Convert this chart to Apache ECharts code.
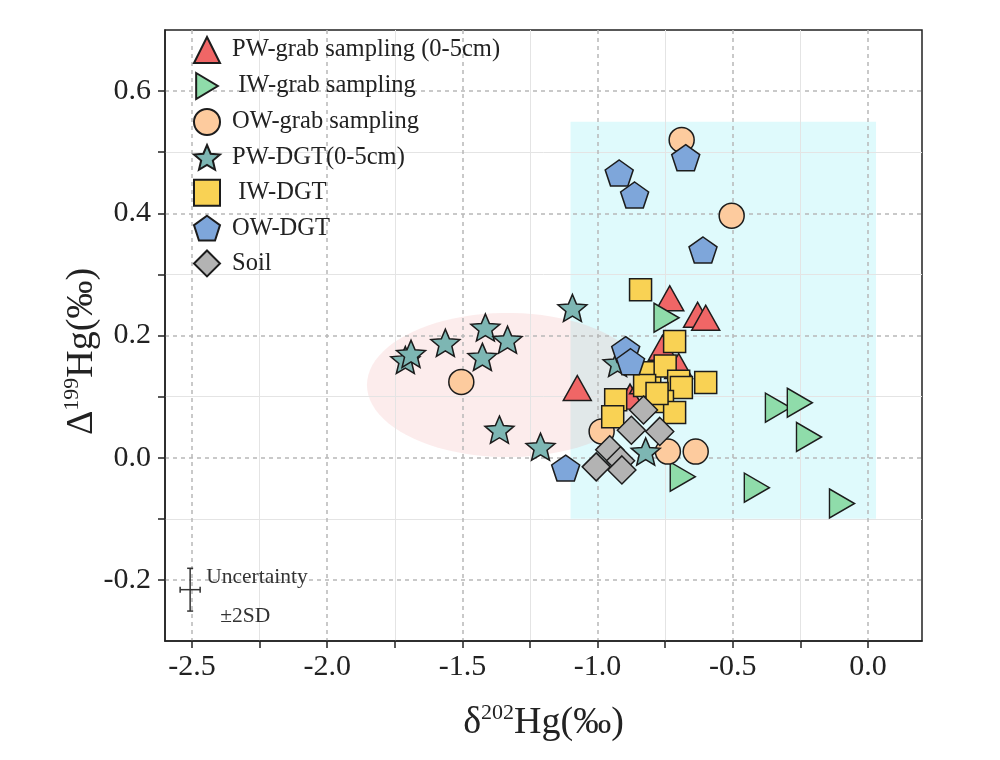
<!DOCTYPE html>
<html><head><meta charset="utf-8">
<script src="https://cdn.jsdelivr.net/npm/echarts@6/dist/echarts.min.js"></script>
<style>html,body{margin:0;padding:0;background:#fff}#c{width:1000px;height:760px}</style>
</head><body><div id="c"></div>
<script>
// ---------- data ----------
const seriesNames = ['PW-grab sampling (0-5cm)', ' IW-grab sampling', 'OW-grab sampling', 'PW-DGT(0-5cm)', ' IW-DGT', 'OW-DGT', 'Soil'];
const pwGrab = [[-1.075, 0.114], [-0.733, 0.261], [-0.63, 0.234], [-0.60, 0.229], [-0.76, 0.18], [-0.70, 0.15], [-0.88, 0.10], [-0.83, 0.125]];
const iwGrab = [[-0.745, 0.229], [-0.333, 0.082], [-0.252, 0.090], [-0.218, 0.034], [-0.411, -0.049], [-0.096, -0.075], [-0.685, -0.031]];
const owGrab = [[-0.689, 0.52], [-0.504, 0.396], [-1.504, 0.124], [-0.74, 0.01], [-0.637, 0.01], [-0.985, 0.043]];
const pwDgt = [[-1.711, 0.160], [-1.69, 0.170], [-1.563, 0.188], [-1.415, 0.213], [-1.333, 0.193], [-1.426, 0.165], [-1.363, 0.046], [-1.211, 0.018], [-1.093, 0.245], [-0.822, 0.010], [-0.926, 0.155]];
const iwDgt = [[-0.841, 0.275], [-0.715, 0.19], [-0.60, 0.123], [-0.807, 0.139], [-0.75, 0.15], [-0.70, 0.125], [-0.69, 0.115], [-0.826, 0.118], [-0.933, 0.095], [-0.76, 0.092], [-0.715, 0.074], [-0.944, 0.067], [-0.78, 0.105]];
const owDgt = [[-0.674, 0.491], [-0.92, 0.466], [-0.863, 0.43], [-0.61, 0.34], [-0.896, 0.177], [-0.878, 0.157], [-1.118, -0.017]];
const soil = [[-0.83, 0.078], [-0.875, 0.045], [-0.77, 0.043], [-0.955, 0.013], [-0.915, -0.005], [-1.005, -0.015], [-0.91, -0.02]];

const xRange = [-2.6, 0.2];
const yRange = [-0.3, 0.7];
const xMajorTicks = [-2.5, -2.0, -1.5, -1.0, -0.5, 0.0];
const xMinorTicks = [-2.25, -1.75, -1.25, -0.75, -0.25];
const yMajorTicks = [-0.2, 0.0, 0.2, 0.4, 0.6];
const yMinorTicks = [-0.1, 0.1, 0.3, 0.5];
const cyanBox = [[-1.1, -0.1], [0.03, 0.55]];
const pinkEllipse = { cx: -1.333, cy: 0.119, rx: 0.52, ry: 0.118 };
const uncertainty = { x: -2.507, y: -0.216, dx: 0.037, dy: 0.035 };

// ---------- styles ----------
const FONT = 'Liberation Serif';
const colors = ['#f06666', '#8fdcaa', '#fdcb9e', '#7db6b3', '#f9d254', '#7ea6da', '#b3b3b3'];
function polyPath(n, inner) {
  const pts = [];
  const k = inner ? n * 2 : n;
  for (let i = 0; i < k; i++) {
    const r = inner && (i % 2) ? inner : 1;
    const a = -Math.PI / 2 + i * 2 * Math.PI / k;
    pts.push((50 + 50 * r * Math.cos(a)).toFixed(2) + ',' + (50 + 50 * r * Math.sin(a)).toFixed(2));
  }
  return 'path://M' + pts.join('L') + 'Z';
}
const starSym = polyPath(5, 0.45);
const pentSym = polyPath(5, 0);
const rightTri = 'path://M0,0L10,6L0,12Z';
const symbols = ['triangle', rightTri, 'circle', starSym, 'rect', pentSym, 'diamond'];
const sizes = [[28, 25], [25, 29], 25, [29, 27], 22, [28, 26], 28];
const datas = [pwGrab, iwGrab, owGrab, pwDgt, iwDgt, owDgt, soil];

const scatterSeries = seriesNames.map((n, i) => ({
  name: n, type: 'scatter', z: 3, data: datas[i], symbol: symbols[i], symbolSize: sizes[i],
  itemStyle: { color: colors[i], borderColor: '#1c1c1c', borderWidth: 1.5, opacity: 1 },
  emphasis: { disabled: true }
}));

const bgSeries = {
  type: 'custom', z: 0, silent: true, data: [[0, 0]],
  renderItem: (params, api) => {
    const p0 = api.coord(cyanBox[0]), p1 = api.coord(cyanBox[1]);
    const pts = [];
    for (let i = 0; i < 90; i++) {
      const t = i / 90 * 2 * Math.PI;
      pts.push(api.coord([pinkEllipse.cx + pinkEllipse.rx * Math.cos(t), pinkEllipse.cy + pinkEllipse.ry * Math.sin(t)]));
    }
    return { type: 'group', children: [
      { type: 'rect', shape: { x: p0[0], y: p1[1], width: p1[0] - p0[0], height: p0[1] - p1[1] }, style: { fill: '#dffafc' } },
      { type: 'polygon', shape: { points: pts }, style: { fill: 'rgba(240,150,150,0.18)' } }
    ]};
  }
};

const uncSeries = {
  type: 'custom', z: 4, silent: true, data: [[uncertainty.x, uncertainty.y]],
  renderItem: (params, api) => {
    const u = uncertainty;
    const c = api.coord([u.x, u.y]);
    const t = api.coord([u.x - u.dx, u.y + u.dy]);
    const b = api.coord([u.x + u.dx, u.y - u.dy]);
    const st = { stroke: '#333', lineWidth: 1.5 };
    const L = (x1, y1, x2, y2) => ({ type: 'line', shape: { x1, y1, x2, y2 }, style: st });
    return { type: 'group', children: [
      L(c[0], t[1], c[0], b[1]), L(c[0] - 3, t[1], c[0] + 3, t[1]), L(c[0] - 3, b[1], c[0] + 3, b[1]),
      L(t[0], c[1], b[0], c[1]), L(t[0], c[1] - 3, t[0], c[1] + 3), L(b[0], c[1] - 3, b[0], c[1] + 3),
      { type: 'text', x: c[0] + 16, y: c[1] - 12, style: { text: 'Uncertainty', fontFamily: FONT, fontSize: 21.5, fill: '#333', verticalAlign: 'middle' } },
      { type: 'text', x: c[0] + 30, y: c[1] + 27, style: { text: '±2SD', fontFamily: FONT, fontSize: 21.5, fill: '#333', verticalAlign: 'middle' } }
    ]};
  }
};

const tickStyle = { color: '#222', width: 1.5 };
const nameRich = {
  d: { fontFamily: FONT, fontSize: 38, color: '#222', lineHeight: 42 },
  s: { fontFamily: FONT, fontSize: 22, color: '#222', verticalAlign: 'top', lineHeight: 24 }
};
const labelStyle = { color: '#222', fontFamily: FONT, fontSize: 30, formatter: v => v.toFixed(1) };

const chart = echarts.init(document.getElementById('c'));
chart.setOption({
  animation: false,
  backgroundColor: '#fff',
  grid: { left: 165, right: 78, top: 30, bottom: 119, show: true, borderColor: '#222', borderWidth: 1.5, backgroundColor: 'transparent' },
  legend: {
    data: seriesNames, orient: 'vertical', left: 188, top: 31,
    itemWidth: 26, itemHeight: 26, itemGap: 8,
    textStyle: { fontFamily: FONT, fontSize: 24.5, color: '#222', padding: [0, 0, 0, 7] },
    selectedMode: false
  },
  xAxis: [
    { type: 'value', min: xRange[0], max: xRange[1], z: 1,
      axisLine: { show: true, onZero: false, lineStyle: tickStyle },
      axisTick: { show: true, length: 7, lineStyle: tickStyle, customValues: xMajorTicks },
      axisLabel: Object.assign({}, labelStyle, { customValues: xMajorTicks, margin: 11 }),
      splitLine: { show: true, lineStyle: { type: [4, 4], color: '#b8b8b8', width: 1.5 } },
      name: '{d|δ}{s|202}{d|Hg(‰)}', nameLocation: 'middle', nameGap: 61,
      nameTextStyle: { rich: nameRich } },
    { type: 'value', min: xRange[0], max: xRange[1], position: 'bottom', offset: 0, z: 1,
      axisLine: { show: false, onZero: false }, axisLabel: { show: false },
      axisTick: { show: true, length: 7, lineStyle: tickStyle, customValues: xMinorTicks },
      splitLine: { show: true, lineStyle: { color: '#e4e4e4', width: 1 } } }
  ],
  yAxis: [
    { type: 'value', min: yRange[0], max: yRange[1], z: 1,
      axisLine: { show: true, onZero: false, lineStyle: tickStyle },
      axisTick: { show: true, length: 7, lineStyle: tickStyle, customValues: yMajorTicks },
      axisLabel: Object.assign({}, labelStyle, { customValues: yMajorTicks, margin: 14 }),
      splitLine: { show: true, lineStyle: { type: [4, 4], color: '#b8b8b8', width: 1.5 } },
      name: '{d|Δ}{s|199}{d|Hg(‰)}', nameLocation: 'middle', nameGap: 62, nameRotate: 90, nameMoveOverlap: false,
      nameTextStyle: { padding: [0, 32, 0, 0], rich: nameRich } },
    { type: 'value', min: yRange[0], max: yRange[1], position: 'left', offset: 0, z: 1,
      axisLine: { show: false, onZero: false }, axisLabel: { show: false },
      axisTick: { show: true, length: 7, lineStyle: tickStyle, customValues: yMinorTicks },
      splitLine: { show: true, lineStyle: { color: '#e4e4e4', width: 1 } } }
  ],
  series: [bgSeries].concat(scatterSeries, [uncSeries])
});
</script></body></html>
